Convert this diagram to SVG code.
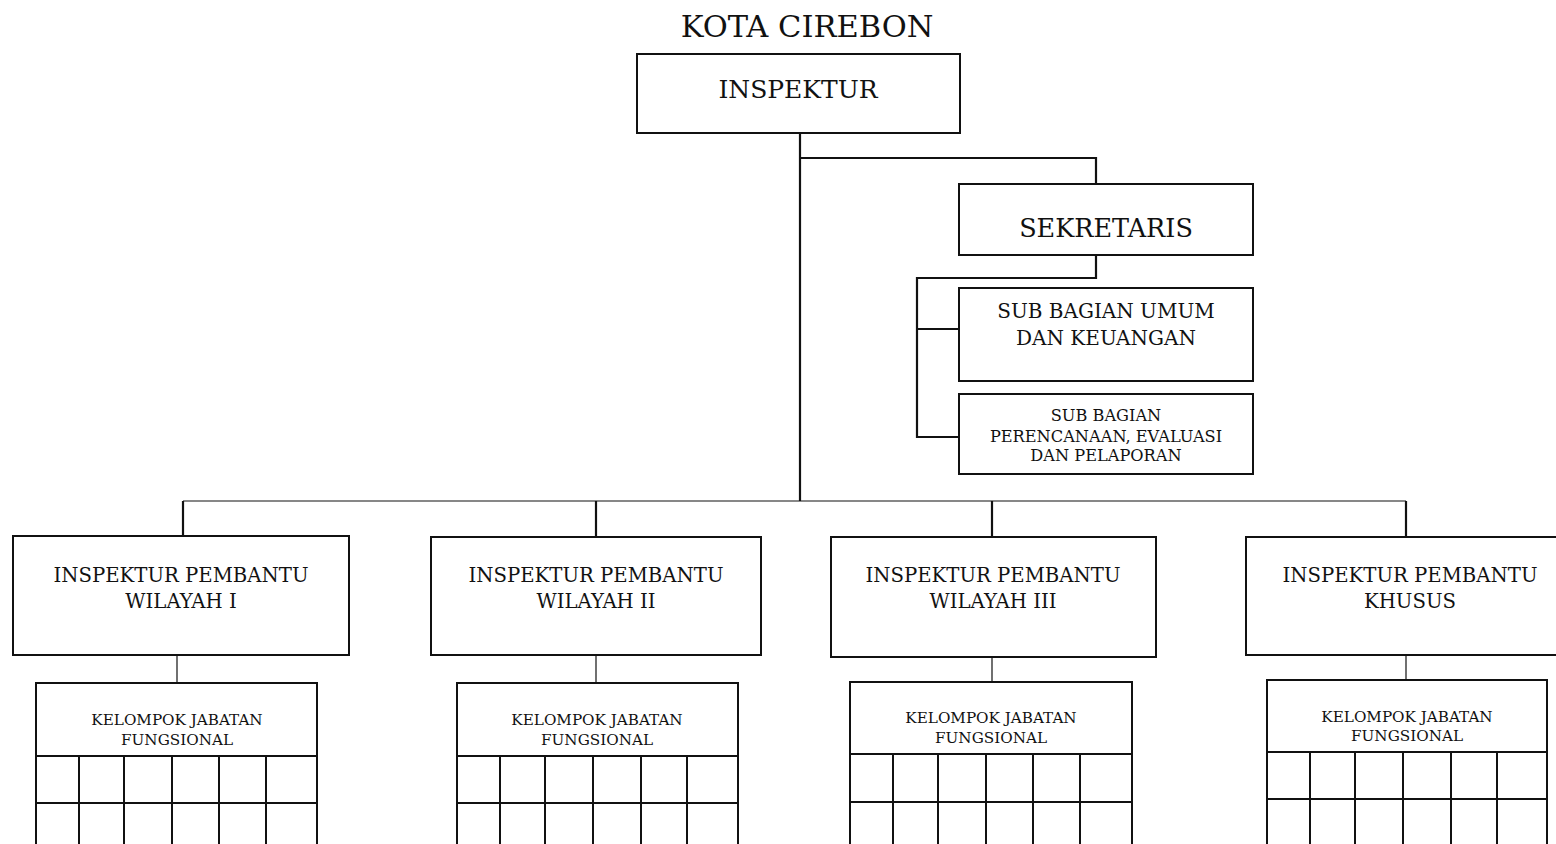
<svg xmlns="http://www.w3.org/2000/svg" width="1556" height="844" viewBox="0 0 1556 844">
<style>
text{font-family:"DejaVu Serif","Liberation Serif",serif;fill:#111;text-anchor:middle}
.box{fill:#fff;stroke:#111;stroke-width:2}
.c{fill:none;stroke:#111;stroke-width:2.2}
.t{fill:none;stroke:#111;stroke-width:1.2}
.g{fill:none;stroke:#111;stroke-width:2}
.ip{font-size:19.7px}
.kjf{font-size:15.2px}
.pr{font-size:16.2px}
</style>
<rect width="1556" height="844" fill="#fff"/>
<text x="807" y="37" font-size="30.5">KOTA CIREBON</text>
<g id="connectors">
<polyline class="c" points="800,133 800,501"/>
<polyline class="c" points="800,158 1096,158 1096,190"/>
<polyline class="c" points="1096,255 1096,278 917,278 917,437 959,437"/>
<line class="c" x1="917" y1="329" x2="959" y2="329"/>
<line class="t" x1="183" y1="501" x2="1406" y2="501" stroke-width="1.6"/>
<line class="c" x1="183" y1="501" x2="183" y2="539"/>
<line class="c" x1="596" y1="501" x2="596" y2="537"/>
<line class="c" x1="992" y1="501" x2="992" y2="539"/>
<line class="c" x1="1406" y1="501" x2="1406" y2="539"/>
<line class="t" x1="177" y1="655" x2="177" y2="683"/>
<line class="t" x1="596" y1="648" x2="596" y2="683"/>
<line class="t" x1="992" y1="653" x2="992" y2="682"/>
<line class="t" x1="1406" y1="653" x2="1406" y2="680"/>
</g>
<g id="inspektur">
<rect class="box" x="637" y="54" width="323" height="79"/>
<text x="798" y="98" font-size="25">INSPEKTUR</text>
</g>
<g id="sekretaris">
<rect class="box" x="959" y="184" width="294" height="71"/>
<text x="1106" y="237" font-size="25.5">SEKRETARIS</text>
</g>
<g id="subbag-umum">
<rect class="box" x="959" y="288" width="294" height="93"/>
<text x="1106" y="318" font-size="20">SUB BAGIAN UMUM</text>
<text x="1106" y="345" font-size="20">DAN KEUANGAN</text>
</g>
<g id="subbag-perencanaan">
<rect class="box" x="959" y="394" width="294" height="80"/>
<text class="pr" x="1106" y="421">SUB BAGIAN</text>
<text class="pr" x="1106" y="442">PERENCANAAN, EVALUASI</text>
<text class="pr" x="1106" y="461">DAN PELAPORAN</text>
</g>
<g id="irban1">
<rect class="box" x="13" y="536" width="336" height="119"/>
<text class="ip" x="181" y="582">INSPEKTUR PEMBANTU</text>
<text class="ip" x="181" y="608">WILAYAH I</text>
</g>
<g id="irban2">
<rect class="box" x="431" y="537" width="330" height="118"/>
<text class="ip" x="596" y="582">INSPEKTUR PEMBANTU</text>
<text class="ip" x="596" y="608">WILAYAH II</text>
</g>
<g id="irban3">
<rect class="box" x="831" y="537" width="325" height="120"/>
<text class="ip" x="993" y="582">INSPEKTUR PEMBANTU</text>
<text class="ip" x="993" y="608">WILAYAH III</text>
</g>
<g id="irban-khusus">
<rect class="box" x="1246" y="537" width="324" height="118"/>
<text class="ip" x="1410" y="582">INSPEKTUR PEMBANTU</text>
<text class="ip" x="1410" y="608">KHUSUS</text>
</g>
<g id="kjf1">
<rect class="box" x="36" y="683" width="281" height="180"/>
<line class="g" x1="36" y1="756" x2="317" y2="756"/>
<line class="g" x1="36" y1="803" x2="317" y2="803"/>
<path class="g" d="M79,756V844M124,756V844M172,756V844M219,756V844M266,756V844"/>
<text class="kjf" x="177" y="725">KELOMPOK JABATAN</text>
<text class="kjf" x="177" y="745">FUNGSIONAL</text>
</g>
<g id="kjf2">
<rect class="box" x="457" y="683" width="281" height="180"/>
<line class="g" x1="457" y1="756" x2="738" y2="756"/>
<line class="g" x1="457" y1="803" x2="738" y2="803"/>
<path class="g" d="M500,756V844M545,756V844M593,756V844M641,756V844M687,756V844"/>
<text class="kjf" x="597" y="725">KELOMPOK JABATAN</text>
<text class="kjf" x="597" y="745">FUNGSIONAL</text>
</g>
<g id="kjf3">
<rect class="box" x="850" y="682" width="282" height="180"/>
<line class="g" x1="850" y1="754" x2="1132" y2="754"/>
<line class="g" x1="850" y1="802" x2="1132" y2="802"/>
<path class="g" d="M893,754V844M938,754V844M986,754V844M1033,754V844M1080,754V844"/>
<text class="kjf" x="991" y="723">KELOMPOK JABATAN</text>
<text class="kjf" x="991" y="743">FUNGSIONAL</text>
</g>
<g id="kjf4">
<rect class="box" x="1267" y="680" width="280" height="180"/>
<line class="g" x1="1267" y1="752" x2="1547" y2="752"/>
<line class="g" x1="1267" y1="799" x2="1547" y2="799"/>
<path class="g" d="M1310,752V844M1355,752V844M1403,752V844M1451,752V844M1497,752V844"/>
<text class="kjf" x="1407" y="722">KELOMPOK JABATAN</text>
<text class="kjf" x="1407" y="741">FUNGSIONAL</text>
</g>
</svg>
